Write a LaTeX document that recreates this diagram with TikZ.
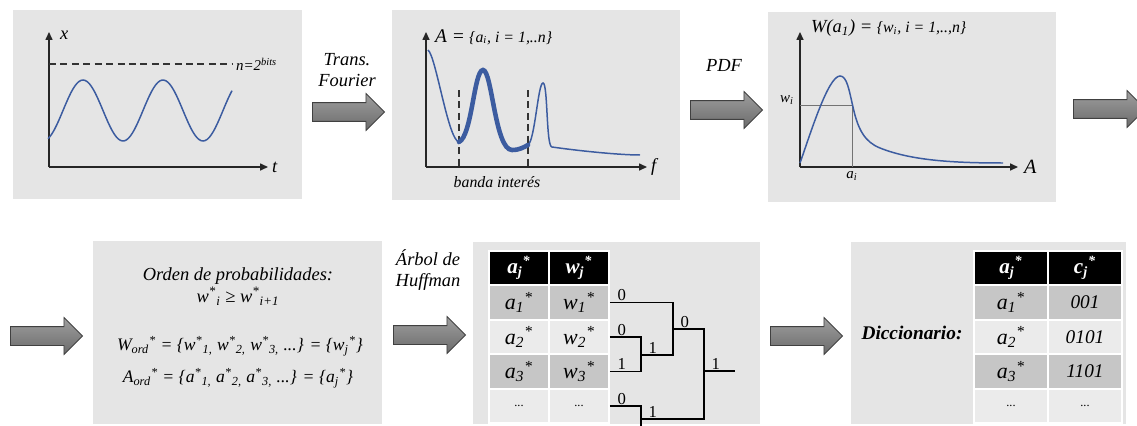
\documentclass[tikz,border=0pt]{standalone}
\usepackage{fontspec}
\setmainfont{Liberation Serif}
\usepackage{tikz}
\usetikzlibrary{arrows.meta,shapes.arrows}
\definecolor{sigblue}{RGB}{60,92,160}

\begin{document}
\begin{tikzpicture}[x=0.02cm,y=-0.02cm,
  panel/.style={fill=gray!20},
  bigarrow/.style={single arrow, draw=black!75, line width=0.5pt, top color=black!38, bottom color=black!58,
    minimum height=1.44cm, inner sep=0.18cm, single arrow head extend=0.18cm, anchor=tail},
  steplbl/.style={align=center, font=\fontsize{10.5}{11.5}\selectfont\itshape},
  axis/.style={line width=0.7pt, black!85, -{Triangle[length=4.5pt,width=4pt]}},
  axlbl/.style={inner sep=1pt, font=\fontsize{10.5}{12}\selectfont\itshape},
  small/.style={inner sep=1pt, font=\fontsize{8.5}{10}\selectfont\itshape},
  sig/.style={sigblue, line width=0.85pt},
  band/.style={sigblue, line width=2.6pt},
  guide/.style={black!80, line width=0.6pt, dash pattern=on 4pt off 2.5pt},
  helper/.style={black!55, line width=0.4pt},
  txt/.style={font=\fontsize{10.5}{12}\selectfont\itshape},
  formula/.style={font=\fontsize{10}{12}\selectfont\itshape},
  cell/.style={draw=white, line width=1.1pt, minimum height=0.68cm, inner sep=0pt, font=\fontsize{12.5}{13}\selectfont\itshape},
  narrow/.style={minimum width=1.2cm},
  wide/.style={minimum width=1.48cm},
  hdr/.style={cell, fill=black, text=white, font=\fontsize{12}{13}\selectfont\bfseries\itshape},
  dk/.style={cell, fill=gray!45},
  lt/.style={cell, fill=gray!16},
  code/.style={font=\fontsize{11}{12}\selectfont\itshape},
  tree/.style={line width=0.75pt},
  bit/.style={anchor=south west, inner sep=0.5pt, xshift=3.5pt, font=\fontsize{9.5}{10}\selectfont}
]
\useasboundingbox (0,0) rectangle (1137,426);

% Panels
\fill[panel] (13,10) rectangle (302,199);
\fill[panel] (392,10) rectangle (680,200);
\fill[panel] (768,12) rectangle (1056,202);
\fill[panel] (93,241) rectangle (382,424);
\fill[panel] (473,242) rectangle (760,424);
\fill[panel] (851,242) rectangle (1126,424);

% Block arrows between the steps
\node[bigarrow] (ar1) at (312,112) {};
\node[bigarrow] (ar2) at (690,110) {};
\node[bigarrow] (ar3) at (1073,109) {};
\node[bigarrow] (ar4) at (10,336) {};
\node[bigarrow] (ar5) at (393,335) {};
\node[bigarrow] (ar6) at (770,336) {};

\node[steplbl] (s1) at (347,70) {Trans.\\Fourier};
\node[steplbl] (s2) at (724,65) {PDF};
\node[steplbl] (s5) at (428,270) {\'Arbol de\\Huffman};

% Signal x(t)
\coordinate (o1) at (49,167);
\coordinate (x1) at (49,32);
\coordinate (t1) at (268,167);
\draw[axis] (o1) -- (x1);
\draw[axis] (o1) -- (t1);
\node[axlbl, anchor=west] (lx1) at (58,35) {x};
\node[axlbl, anchor=west] (lt1) at (270,167) {t};
\coordinate (dl) at (49,64);
\coordinate (dr) at (233,64);
\draw[guide] (dl) -- (dr);
\node[small, anchor=west] (nbits) at (234,64) {n=2\textsuperscript{bits}};
\draw[sig] plot[domain=48:232, samples=90] (\x,{110.5-30.5*cos(4.5*(\x-83))});

% Spectrum
\coordinate (o2) at (426,167);
\coordinate (x2) at (426,32);
\coordinate (f2) at (647,167);
\draw[axis] (o2) -- (x2);
\draw[axis] (o2) -- (f2);
\node[axlbl, anchor=west] (lf2) at (649,167) {f};
\node[anchor=west, inner sep=1pt, font=\itshape] (tA) at (433,37)
  {{\fontsize{11}{12}\selectfont A =} {\fontsize{9}{10}\selectfont \{a\textsubscript{i}, i = 1,..n\}}};
\coordinate (b1) at (459,90);
\coordinate (b1o) at (459,167);
\coordinate (b2) at (528,90);
\coordinate (b2o) at (528,167);
\draw[guide] (b1) -- (b1o);
\draw[guide] (b2) -- (b2o);
\node[small, font=\fontsize{9}{10}\selectfont\itshape] (band) at (497,182) {banda inter\'es};
\draw[sig] (428,50) .. controls (436,56) and (448,140) .. (459,142);
\draw[band, line cap=round] (459,142) .. controls (472,136) and (474,70) .. (483,70)
  .. controls (492,70) and (495,150) .. (512,150) .. controls (520,150) and (524,147) .. (528,145);
\draw[sig] (528,145) .. controls (535,140) and (538,83) .. (543,83)
  .. controls (548,83) and (546,147) .. (552,147) .. controls (580,151) and (620,155) .. (640,155);

% Probability density
\coordinate (o3) at (800,167);
\coordinate (x3) at (800,32);
\coordinate (a3) at (1018,167);
\draw[axis] (o3) -- (x3);
\draw[axis] (o3) -- (a3);
\node[axlbl, anchor=west, font=\fontsize{11.5}{12}\selectfont\itshape] (lA3) at (1022,167) {A};
\node[anchor=west, inner sep=1pt, font=\itshape] (tW) at (809,28)
  {{\fontsize{10.5}{12}\selectfont W(a\textsubscript{1}) =} {\fontsize{9}{10}\selectfont \{w\textsubscript{i}, i = 1,..,n\}}};
\coordinate (wi) at (800,105);
\coordinate (pk) at (852,105);
\coordinate (ai) at (852,167);
\draw[helper] (wi) -- (pk) -- (ai);
\node[small] (lwi) at (787,100) {w\textsubscript{i}};
\node[small] (lai) at (852,176) {a\textsubscript{i}};
\draw[sig] (800,163) .. controls (810,135) and (828,76) .. (840,76)
  .. controls (847,76) and (849,90) .. (853,107) .. controls (858,130) and (865,142) .. (880,148)
  .. controls (910,160) and (950,163) .. (1003,163);

% Ordering
\node[txt] (ord) at (238,276) {Orden de probabilidades:};
\node[txt] (ineq) at (238,296) {w\textsuperscript{*}\textsubscript{i} ≥ w\textsuperscript{*}\textsubscript{i+1}};
\node[formula] (word) at (240,346) {W\textsubscript{ord}\textsuperscript{*} = \{w\textsuperscript{*}\textsubscript{1,} w\textsuperscript{*}\textsubscript{2,} w\textsuperscript{*}\textsubscript{3,} ...\} = \{w\textsubscript{j}\textsuperscript{*}\}};
\node[formula] (aord) at (238,378) {A\textsubscript{ord}\textsuperscript{*} = \{a\textsuperscript{*}\textsubscript{1,} a\textsuperscript{*}\textsubscript{2,} a\textsuperscript{*}\textsubscript{3,} ...\} = \{a\textsubscript{j}\textsuperscript{*}\}};

% Huffman table and tree
\node[hdr, narrow] (ha) at (519,268) {a\textsubscript{j}\textsuperscript{*}};
\node[hdr, narrow] (hw) at (579,268) {w\textsubscript{j}\textsuperscript{*}};
\node[dk, narrow] (a1) at (519,302.5) {a\textsubscript{1}\textsuperscript{*}};
\node[dk, narrow] (w1) at (579,302.5) {w\textsubscript{1}\textsuperscript{*}};
\node[lt, narrow] (a2) at (519,337) {a\textsubscript{2}\textsuperscript{*}};
\node[lt, narrow] (w2) at (579,337) {w\textsubscript{2}\textsuperscript{*}};
\node[dk, narrow] (a3) at (519,371.5) {a\textsubscript{3}\textsuperscript{*}};
\node[dk, narrow] (w3) at (579,371.5) {w\textsubscript{3}\textsuperscript{*}};
\node[lt, narrow, font=\fontsize{7}{8}\selectfont] (a4) at (519,406) {...};
\node[lt, narrow, font=\fontsize{7}{8}\selectfont] (w4) at (579,406) {...};

\coordinate (j23) at (641,355);
\coordinate (j123) at (673,329);
\coordinate (j4x) at (641,419);
\coordinate (jroot) at (704,371);
\coordinate (jout) at (735,371);
\coordinate (cut) at (641,432);
\draw[tree] (w1.east) node[bit] {0} -| (j123);
\draw[tree] (w2.east) node[bit] {0} -| (j23);
\draw[tree] (w3.east) node[bit] {1} -| (j23);
\draw[tree] (w4.east) node[bit] {0} -| (cut);
\draw[tree] (j23) node[bit] {1} -| (j123);
\draw[tree] (j123) node[bit] {0} -| (jroot);
\draw[tree] (j4x) node[bit] {1} -| (jroot);
\draw[tree] (jroot) node[bit] {1} -- (jout);

% Dictionary
\node[font=\fontsize{11}{12}\selectfont\bfseries\itshape] (dic) at (912,333) {Diccionario:};
\node[hdr, wide] (da) at (1011,268) {a\textsubscript{j}\textsuperscript{*}};
\node[hdr, wide] (dc) at (1085,268) {c\textsubscript{j}\textsuperscript{*}};
\node[dk, wide] (d1) at (1011,302.5) {a\textsubscript{1}\textsuperscript{*}};
\node[dk, wide, code] (c1) at (1085,302.5) {001};
\node[lt, wide] (d2) at (1011,337) {a\textsubscript{2}\textsuperscript{*}};
\node[lt, wide, code] (c2) at (1085,337) {0101};
\node[dk, wide] (d3) at (1011,371.5) {a\textsubscript{3}\textsuperscript{*}};
\node[dk, wide, code] (c3) at (1085,371.5) {1101};
\node[lt, wide, font=\fontsize{7}{8}\selectfont] (d4) at (1011,406) {...};
\node[lt, wide, font=\fontsize{7}{8}\selectfont] (c4) at (1085,406) {...};
\end{tikzpicture}
\end{document}
